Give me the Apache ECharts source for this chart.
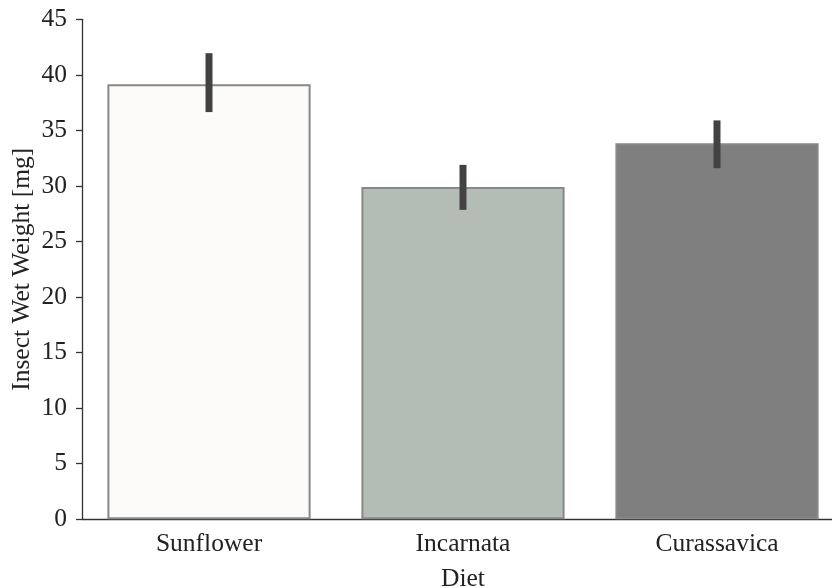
<!DOCTYPE html>
<html>
<head>
<meta charset="utf-8">
<script src="https://cdn.jsdelivr.net/npm/echarts@6/dist/echarts.min.js"></script>
<style>html,body{margin:0;padding:0;background:#fff}#c{width:832px;height:588px}</style>
</head>
<body>
<div id="c"></div>
<script>
const categories = ['Sunflower', 'Incarnata', 'Curassavica'];
const means = [39.15, 29.9, 33.85];
const errLow = [36.65, 27.85, 31.6];
const errHigh = [41.95, 31.9, 35.9];
const barColors = ['#fcfbfa', '#b4bdb5', '#7f7f7f'];
const yTicks = [0, 5, 10, 15, 20, 25, 30, 35, 40, 45];

const FONT = '"Liberation Serif", "DejaVu Serif", serif';
const FS = 25.5;
const chart = echarts.init(document.getElementById('c'));
chart.setOption({
  animation: false,
  grid: { left: 82, top: 19.3, width: 762, height: 500, containLabel: false, outerBoundsMode: 'none' },
  xAxis: {
    type: 'category',
    data: categories,
    name: 'Diet',
    nameLocation: 'middle',
    nameGap: 47,
    nameMoveOverlap: false,
    nameTextStyle: { fontFamily: FONT, fontSize: FS, color: '#222' },
    axisLine: { lineStyle: { color: '#333', width: 1.3 } },
    axisTick: { alignWithLabel: true, length: 7, lineStyle: { color: '#333', width: 1.3 } },
    axisLabel: { fontFamily: FONT, fontSize: FS, color: '#222', margin: 12 },
    splitLine: { show: false }
  },
  yAxis: {
    type: 'value',
    min: yTicks[0],
    max: yTicks[yTicks.length - 1],
    interval: 5,
    name: 'Insect Wet Weight [mg]',
    nameLocation: 'middle',
    nameGap: 47,
    nameMoveOverlap: false,
    nameTextStyle: { fontFamily: FONT, fontSize: FS, color: '#222' },
    axisLine: { show: true, lineStyle: { color: '#333', width: 1.3 } },
    axisTick: { show: true, length: 6, lineStyle: { color: '#333', width: 1.3 } },
    axisLabel: { fontFamily: FONT, fontSize: FS, color: '#222', margin: 15 },
    splitLine: { show: false }
  },
  series: [
    {
      type: 'bar',
      barWidth: '80%',
      data: means.map((v, i) => ({
        value: v,
        itemStyle: { color: barColors[i], borderColor: '#888', borderWidth: 2 }
      }))
    },
    {
      type: 'custom',
      data: categories.map((c, i) => [i, errLow[i], errHigh[i]]),
      renderItem: function (params, api) {
        const p1 = api.coord([api.value(0), api.value(1)]);
        const p2 = api.coord([api.value(0), api.value(2)]);
        return {
          type: 'line',
          shape: { x1: p1[0], y1: p1[1], x2: p2[0], y2: p2[1] },
          style: { stroke: '#424242', lineWidth: 7, lineCap: 'butt' }
        };
      },
      z: 10
    }
  ]
});
</script>
</body>
</html>
